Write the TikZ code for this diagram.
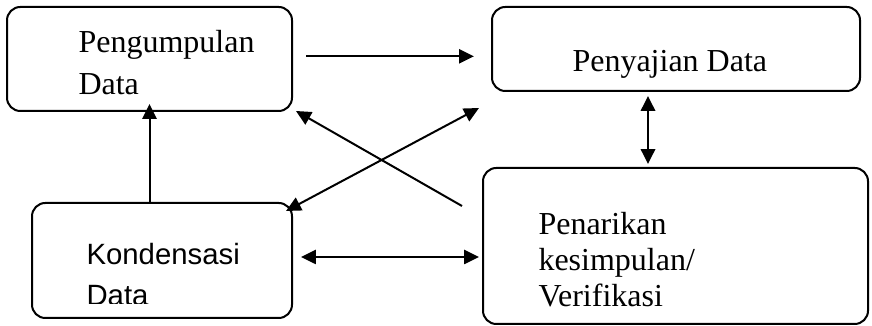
\documentclass[tikz,border=0pt]{standalone}
\usepackage{fontspec}
\setmainfont{Liberation Serif}
\newfontfamily\arialfont{Liberation Sans}
\usetikzlibrary{arrows.meta}

\begin{document}
\begin{tikzpicture}[
        x=0.375pt, y=-0.375pt,
        box/.style={draw, rounded corners=5pt, line width=0.75pt, inner sep=0pt},
        teks/.style={anchor=base west, align=left, inner sep=0pt, font=\fontsize{12}{15.75}\selectfont},
        arrow/.style={draw, line width=0.75pt, -{Triangle[length=5.6pt,width=5.3pt]}},
        dblarrow/.style={arrow, {Triangle[length=5.6pt,width=5.3pt]}-{Triangle[length=5.6pt,width=5.3pt]}}
    ]
        \useasboundingbox (0,0) rectangle (872,326);

        % Nodes
        \node (pengumpulan) [box, minimum width=106.875pt, minimum height=39pt] at (149.5,59) {};
        \node (penyajian) [box, minimum width=138pt, minimum height=31.5pt] at (676,49) {};
        \node (kondensasi) [box, minimum width=97.5pt, minimum height=43.125pt] at (162,260.5) {};
        \node (penarikan) [box, minimum width=144.375pt, minimum height=58.5pt] at (675.5,246) {};

        % Texts
        \node (tpengumpulan) [teks] at (78,95) {Pengumpulan\\Data};
        \node (tpenyajian) [teks] at (572,72) {Penyajian Data};
        \node (tpenarikan) [teks, font=\fontsize{12}{13.5}\selectfont] at (538,307) {Penarikan\\kesimpulan/\\Verifikasi};
        \begin{scope}
            \clip (kondensasi.north west) rectangle ([shift={(0,-15)}]kondensasi.south east);
            \node (tkondensasi) [teks, font=\arialfont\fontsize{11}{15.4}\selectfont] at (86,306) {Kondensasi\\Data};
        \end{scope}

        % Arrows
        \path [arrow, shorten <=4.9pt, shorten >=6.4pt] ([yshift=1pt]pengumpulan.east) -- ([yshift=1pt]pengumpulan.east -| penyajian.west);
        \path [arrow] (kondensasi.north -| pengumpulan.south) -- ([yshift=3pt]pengumpulan.south);
        \path [arrow] ([shift={(-20,39)}]penarikan.north west) -- ([shift={(3,-1)}]pengumpulan.south east);
        \path [dblarrow] ([shift={(-7,9)}]kondensasi.north east) -- ([shift={(-12,16)}]penyajian.south west);
        \path [dblarrow, line width=1.1pt] ([shift={(-28,4)}]penyajian.south) -- ([shift={(-27.5,-3)}]penarikan.north);
        \path [dblarrow] ([shift={(8,-3.5)}]kondensasi.east) -- ([shift={(-3,-3.5)}]kondensasi.east -| penarikan.west);
    \end{tikzpicture}
\end{document}
